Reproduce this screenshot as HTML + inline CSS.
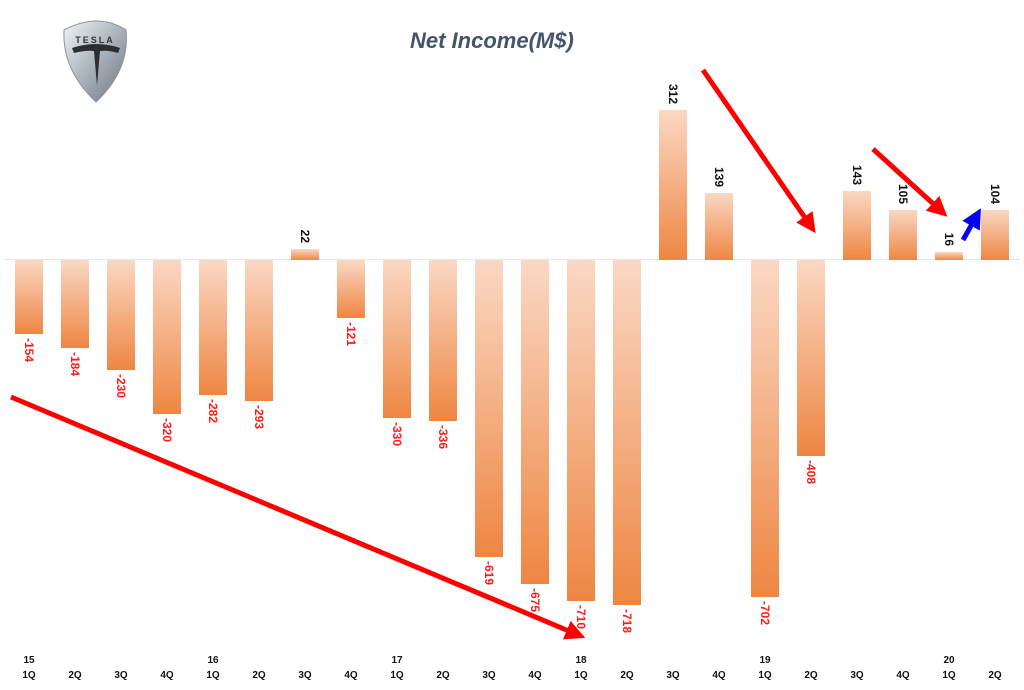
<!DOCTYPE html>
<html><head><meta charset="utf-8"><style>
html,body{margin:0;padding:0;background:#fff;}
svg{display:block;font-family:"Liberation Sans",sans-serif;}
.n{fill:#ff1a1a;font-size:12px;font-weight:bold;}
.p{fill:#111;font-size:12px;font-weight:bold;}
.ax{fill:#111;font-size:10px;font-weight:bold;}
</style></head><body>
<svg width="1024" height="690" viewBox="0 0 1024 690">
<defs>
<linearGradient id="g" x1="0" y1="0" x2="0" y2="1">
<stop offset="0" stop-color="#fad8c4"/><stop offset="1" stop-color="#ee8642"/>
</linearGradient>
<linearGradient id="sh" x1="0" y1="0" x2="1" y2="1">
<stop offset="0" stop-color="#f2f4f6"/><stop offset="0.5" stop-color="#aab3bb"/><stop offset="1" stop-color="#6d7680"/>
</linearGradient>
<marker id="ar" markerWidth="4" markerHeight="4" refX="2" refY="2" orient="auto" markerUnits="strokeWidth"><path d="M0,0 L4,2 L0,4 z" fill="#ff0000"/></marker>
<marker id="ab" markerWidth="4" markerHeight="4" refX="2" refY="2" orient="auto" markerUnits="strokeWidth"><path d="M0,0 L4,2 L0,4 z" fill="#0000ff"/></marker>
</defs>
<path d="M64,30 Q98,12 126,30 Q130,70 96,102 Q62,70 64,30 Z" fill="url(#sh)" stroke="#8a939b" stroke-width="1"/>
<text x="95" y="43" text-anchor="middle" font-size="9" font-weight="bold" fill="#333" letter-spacing="2">TESLA</text>
<path d="M72,48 Q96,40 120,48 L118,53 Q108,50 100,51 L97,86 L94,51 Q86,50 74,53 Z" fill="#2b2f33"/>
<text x="410" y="48" font-size="22" font-weight="bold" font-style="italic" fill="#44546a">Net Income(M$)</text>
<line x1="5" y1="259.5" x2="1020" y2="259.5" stroke="#e6e6e6" stroke-width="1"/>
<g fill="url(#g)">
<rect x="15" y="260" width="28" height="74"/>
<rect x="61" y="260" width="28" height="88"/>
<rect x="107" y="260" width="28" height="110"/>
<rect x="153" y="260" width="28" height="154"/>
<rect x="199" y="260" width="28" height="135"/>
<rect x="245" y="260" width="28" height="141"/>
<rect x="291" y="249" width="28" height="11"/>
<rect x="337" y="260" width="28" height="58"/>
<rect x="383" y="260" width="28" height="158"/>
<rect x="429" y="260" width="28" height="161"/>
<rect x="475" y="260" width="28" height="297"/>
<rect x="521" y="260" width="28" height="324"/>
<rect x="567" y="260" width="28" height="341"/>
<rect x="613" y="260" width="28" height="345"/>
<rect x="659" y="110" width="28" height="150"/>
<rect x="705" y="193" width="28" height="67"/>
<rect x="751" y="260" width="28" height="337"/>
<rect x="797" y="260" width="28" height="196"/>
<rect x="843" y="191" width="28" height="69"/>
<rect x="889" y="210" width="28" height="50"/>
<rect x="935" y="252" width="28" height="8"/>
<rect x="981" y="210" width="28" height="50"/>
</g>
<g class="n" dominant-baseline="central">
<text transform="translate(29,338) rotate(90)">-154</text>
<text transform="translate(75,352) rotate(90)">-184</text>
<text transform="translate(121,374) rotate(90)">-230</text>
<text transform="translate(167,418) rotate(90)">-320</text>
<text transform="translate(213,399) rotate(90)">-282</text>
<text transform="translate(259,405) rotate(90)">-293</text>
<text transform="translate(351,322) rotate(90)">-121</text>
<text transform="translate(397,422) rotate(90)">-330</text>
<text transform="translate(443,425) rotate(90)">-336</text>
<text transform="translate(489,561) rotate(90)">-619</text>
<text transform="translate(535,588) rotate(90)">-675</text>
<text transform="translate(581,605) rotate(90)">-710</text>
<text transform="translate(627,609) rotate(90)">-718</text>
<text transform="translate(765,601) rotate(90)">-702</text>
<text transform="translate(811,460) rotate(90)">-408</text>
</g>
<g class="p" dominant-baseline="central" text-anchor="end">
<text transform="translate(305,243) rotate(90)">22</text>
<text transform="translate(673,104) rotate(90)">312</text>
<text transform="translate(719,187) rotate(90)">139</text>
<text transform="translate(857,185) rotate(90)">143</text>
<text transform="translate(903,204) rotate(90)">105</text>
<text transform="translate(949,246) rotate(90)">16</text>
<text transform="translate(995,204) rotate(90)">104</text>
</g>
<g class="ax" text-anchor="middle">
<text x="29" y="663">15</text><text x="213" y="663">16</text><text x="397" y="663">17</text><text x="581" y="663">18</text><text x="765" y="663">19</text><text x="949" y="663">20</text>
<text x="29" y="678">1Q</text><text x="75" y="678">2Q</text><text x="121" y="678">3Q</text><text x="167" y="678">4Q</text>
<text x="213" y="678">1Q</text><text x="259" y="678">2Q</text><text x="305" y="678">3Q</text><text x="351" y="678">4Q</text>
<text x="397" y="678">1Q</text><text x="443" y="678">2Q</text><text x="489" y="678">3Q</text><text x="535" y="678">4Q</text>
<text x="581" y="678">1Q</text><text x="627" y="678">2Q</text><text x="673" y="678">3Q</text><text x="719" y="678">4Q</text>
<text x="765" y="678">1Q</text><text x="811" y="678">2Q</text><text x="857" y="678">3Q</text><text x="903" y="678">4Q</text>
<text x="949" y="678">1Q</text><text x="995" y="678">2Q</text>
</g>
<g stroke="#ff0000" stroke-width="5" fill="none">
<line x1="11" y1="397" x2="576" y2="634" marker-end="url(#ar)"/>
<line x1="703" y1="70" x2="810" y2="225" marker-end="url(#ar)"/>
<line x1="873" y1="149" x2="940" y2="210" marker-end="url(#ar)"/>
</g>
<line x1="963" y1="240" x2="976" y2="217" stroke="#0000ff" stroke-width="5" marker-end="url(#ab)"/>
</svg>
</body></html>
